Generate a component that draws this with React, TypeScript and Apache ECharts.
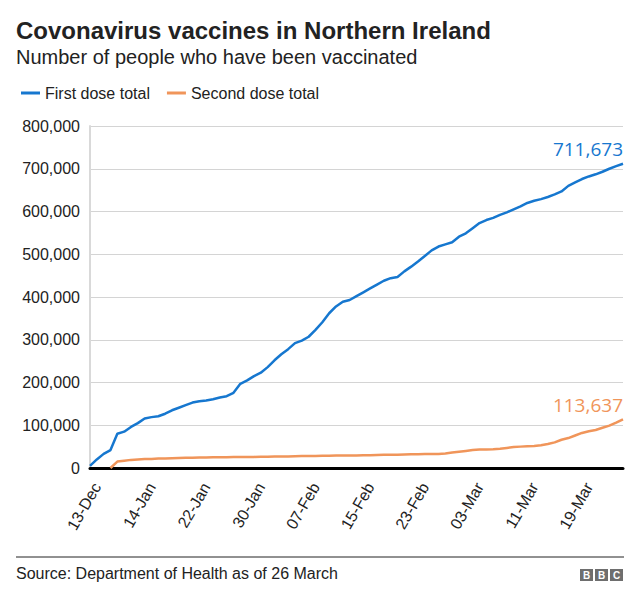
import React, { useEffect, useRef } from "react";
import * as echarts from "echarts";

const dates = [
  "13-Dec", "20-Dec", "27-Dec", "03-Jan", "10-Jan", "11-Jan", "12-Jan", "13-Jan",
  "14-Jan", "15-Jan", "16-Jan", "17-Jan", "18-Jan", "19-Jan", "20-Jan", "21-Jan",
  "22-Jan", "23-Jan", "24-Jan", "25-Jan", "26-Jan", "27-Jan", "28-Jan", "29-Jan",
  "30-Jan", "31-Jan", "01-Feb", "02-Feb", "03-Feb", "04-Feb", "05-Feb", "06-Feb",
  "07-Feb", "08-Feb", "09-Feb", "10-Feb", "11-Feb", "12-Feb", "13-Feb", "14-Feb",
  "15-Feb", "16-Feb", "17-Feb", "18-Feb", "19-Feb", "20-Feb", "21-Feb", "22-Feb",
  "23-Feb", "24-Feb", "25-Feb", "26-Feb", "27-Feb", "28-Feb", "01-Mar", "02-Mar",
  "03-Mar", "04-Mar", "05-Mar", "06-Mar", "07-Mar", "08-Mar", "09-Mar", "10-Mar",
  "11-Mar", "12-Mar", "13-Mar", "14-Mar", "15-Mar", "16-Mar", "17-Mar", "18-Mar",
  "19-Mar", "20-Mar", "21-Mar", "22-Mar", "23-Mar", "24-Mar", "25-Mar",
];

const firstDose = [
  5000, 20000, 33000, 42000, 80000, 85000, 96000, 105000, 116000, 119000,
  121000, 127000, 135000, 141000, 147000, 153000, 156000, 158000, 161000, 165000,
  168000, 176000, 197000, 205000, 215000, 223000, 236000, 252000, 266000, 278000,
  292000, 298000, 307000, 323000, 341000, 362000, 378000, 389000, 393000, 402000,
  411000, 420000, 429000, 438000, 444000, 447000, 460000, 471000, 483000, 496000,
  509000, 518000, 523000, 528000, 541000, 549000, 561000, 573000, 580000, 585000,
  592000, 598000, 605000, 612000, 620000, 625000, 629000, 634000, 640000, 647000,
  660000, 668000, 676000, 682000, 687000, 693000, 700000, 706000, 711673,
];

const secondDose = [
  null, null, null, 0, 15000, 17000, 19000, 20000, 21000, 21000,
  22000, 22000, 23000, 23500, 24000, 24000, 24500, 24500, 25000, 25000,
  25000, 25500, 26000, 26000, 26000, 26500, 26500, 27000, 27000, 27000,
  27500, 28000, 28000, 28000, 28500, 28500, 29000, 29000, 29000, 29500,
  30000, 30000, 30500, 31000, 31000, 31000, 31500, 32000, 32000, 32500,
  33000, 33000, 34000, 36000, 38000, 40000, 42000, 43000, 43500, 44000,
  45000, 47000, 49000, 50000, 51000, 51500, 53000, 56000, 60000, 66000,
  70000, 76000, 82000, 86000, 89000, 94000, 99000, 106000, 113637,
];

const seriesNames = ["First dose total", "Second dose total"];
const yTicks = { min: 0, max: 800000, interval: 100000 };

const BLUE = "#1677cf";
const ORANGE = "#f0955a";
const FONT = "'Liberation Sans', Arial, sans-serif";

function withEndLabel(values: (number | null)[], color: string) {
  const last = values.length - 1;
  return values.map((v, i) =>
    i === last
      ? {
          value: v,
          label: {
            show: true,
            position: "top",
            align: "right",
            distance: 5,
            color,
            fontSize: 19,
            fontFamily: "'Open Sans', 'Noto Sans', sans-serif",
            formatter: (p: any) => Number(p.value).toLocaleString("en-US"),
          },
        }
      : v
  );
}

export default function App() {
  const ref = useRef<HTMLDivElement>(null);
  useEffect(() => {
    if (!ref.current) return;
    const chart = echarts.init(ref.current, null, { renderer: "svg" });
    chart.setOption({
      animation: false,
      backgroundColor: "#ffffff",
      textStyle: { fontFamily: FONT },
      legend: {
        left: 16,
        top: 80,
        icon: "rect",
        itemWidth: 19,
        itemHeight: 3,
        itemGap: 17,
        textStyle: { fontSize: 16, color: "#222", fontFamily: FONT },
        data: seriesNames,
      },
      grid: { left: 90, right: 17, top: 126, bottom: 135 },
      xAxis: {
        type: "category",
        data: dates,
        boundaryGap: false,
        axisLine: { lineStyle: { color: "#000", width: 3 } },
        axisTick: { show: false },
        axisLabel: {
          interval: 7,
          rotate: 60,
          fontSize: 16,
          color: "#222",
          margin: 12,
          verticalAlign: "top",
          fontFamily: FONT,
        },
        splitLine: { show: false },
      },
      yAxis: {
        type: "value",
        min: yTicks.min,
        max: yTicks.max,
        interval: yTicks.interval,
        axisLine: { show: true, lineStyle: { color: "#d9d9d9", width: 2 } },
        axisTick: { show: false },
        axisLabel: {
          fontSize: 16,
          color: "#222",
          margin: 10,
          fontFamily: FONT,
          formatter: (v: number) => v.toLocaleString("en-US"),
        },
        splitLine: { lineStyle: { color: "#d4d4d4", width: 1 } },
      },
      series: [
        {
          name: seriesNames[0],
          type: "line",
          data: withEndLabel(firstDose, BLUE),
          color: BLUE,
          lineStyle: { width: 2.5, color: BLUE },
          showSymbol: true,
          showAllSymbol: true,
          symbol: "circle",
          symbolSize: 0,
          z: 3,
        },
        {
          name: seriesNames[1],
          type: "line",
          data: withEndLabel(secondDose, ORANGE),
          color: ORANGE,
          lineStyle: { width: 2.5, color: ORANGE },
          showSymbol: true,
          showAllSymbol: true,
          symbol: "circle",
          symbolSize: 0,
          z: 2,
        },
      ],
      graphic: [
        {
          type: "text",
          left: 16,
          top: 18,
          style: {
            text: "Covonavirus vaccines in Northern Ireland",
            font: "bold 24px 'Liberation Sans', Arial, sans-serif",
            fill: "#222",
          },
        },
        {
          type: "text",
          left: 16,
          top: 47,
          style: {
            text: "Number of people who have been vaccinated",
            font: "20px 'Liberation Sans', Arial, sans-serif",
            fill: "#222",
          },
        },
        {
          type: "line",
          shape: { x1: 16, y1: 557, x2: 624, y2: 557 },
          style: { stroke: "#222", lineWidth: 1 },
        },
        {
          type: "text",
          left: 16,
          top: 565,
          style: {
            text: "Source: Department of Health as of 26 March",
            font: "16px 'Liberation Sans', Arial, sans-serif",
            fill: "#222",
          },
        },
        ...["B", "B", "C"].flatMap((ch, i) => [
          {
            type: "rect",
            shape: { x: 580 + i * 15, y: 569, width: 13, height: 12 },
            style: { fill: "#6e6e6e" },
          },
          {
            type: "text",
            x: 586.5 + i * 15,
            y: 575.5,
            style: {
              text: ch,
              font: "bold 10px 'Liberation Sans', Arial, sans-serif",
              fill: "#fff",
              textAlign: "center",
              textVerticalAlign: "middle",
            },
          },
        ]),
      ],
    });
    return () => chart.dispose();
  }, []);
  return (
    <div
      ref={ref}
      style={{ position: "fixed", left: 0, top: 0, width: 640, height: 603 }}
    />
  );
}
